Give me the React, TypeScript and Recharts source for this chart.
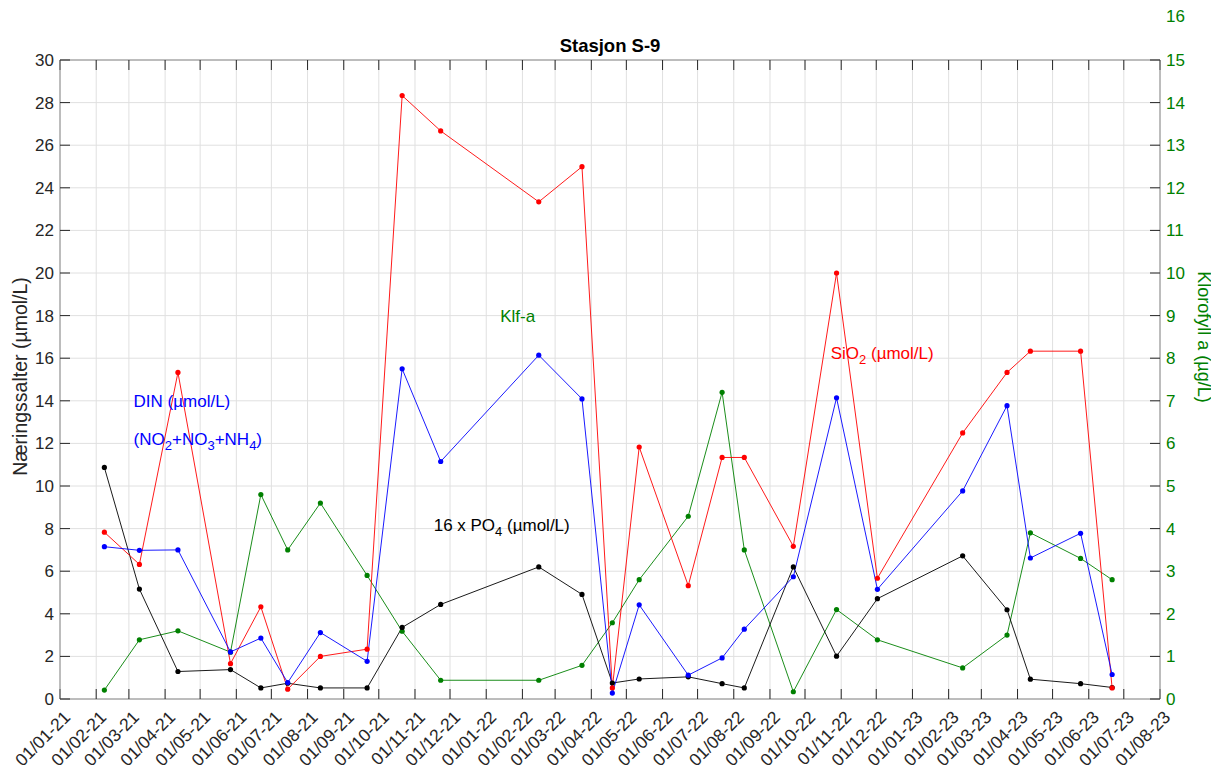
import React from "react";
import { LineChart, Line, XAxis, YAxis, CartesianGrid, ReferenceDot } from "recharts";

const FONT = "'Liberation Sans', Arial, Helvetica, sans-serif";

// Sampling dates
const dates = [
  "2021-02-08", "2021-03-10", "2021-04-12", "2021-05-27", "2021-06-22", "2021-07-15",
  "2021-08-12", "2021-09-21", "2021-10-21", "2021-11-23", "2022-02-15", "2022-03-24",
  "2022-04-19", "2022-05-12", "2022-06-23", "2022-07-22", "2022-08-10", "2022-09-21",
  "2022-10-28", "2022-12-02", "2023-02-13", "2023-03-23", "2023-04-12", "2023-05-25",
  "2023-06-21",
];
// SiO2 (µmol/L)
const sio2 = [7.83, 6.32, 15.33, 1.66, 4.33, 0.46, 2.0, 2.34, 28.33, 26.67, 23.34, 24.99, 0.52, 11.83, 5.32, 11.34, 11.34, 7.17, 20.0, 5.67, 12.49, 15.33, 16.33, 16.33, 0.52];
// DIN (µmol/L)
const din = [7.15, 6.98, 7.0, 2.21, 2.86, 0.77, 3.12, 1.77, 15.5, 11.15, 16.14, 14.09, 0.28, 4.42, 1.12, 1.93, 3.28, 5.74, 14.14, 5.15, 9.77, 13.77, 6.62, 7.78, 1.15];
// 16 x PO4 (µmol/L)
const po4x16 = [10.87, 5.16, 1.29, 1.38, 0.52, 0.74, 0.52, 0.52, 3.36, 4.44, 6.2, 4.91, 0.75, 0.94, 1.04, 0.72, 0.52, 6.2, 2.01, 4.71, 6.72, 4.19, 0.93, 0.72, 0.54];
// Klorofyll a (µg/L)
const chla = [0.21, 1.39, 1.6, 1.1, 4.8, 3.5, 4.6, 2.9, 1.59, 0.44, 0.44, 0.79, 1.79, 2.8, 4.29, 7.2, 3.5, 0.17, 2.1, 1.39, 0.73, 1.5, 3.9, 3.3, 2.8];

// X tick dates (month starts)
const monthTicks = [
  "2021-01-01", "2021-02-01", "2021-03-01", "2021-04-01", "2021-05-01", "2021-06-01",
  "2021-07-01", "2021-08-01", "2021-09-01", "2021-10-01", "2021-11-01", "2021-12-01",
  "2022-01-01", "2022-02-01", "2022-03-01", "2022-04-01", "2022-05-01", "2022-06-01",
  "2022-07-01", "2022-08-01", "2022-09-01", "2022-10-01", "2022-11-01", "2022-12-01",
  "2023-01-01", "2023-02-01", "2023-03-01", "2023-04-01", "2023-05-01", "2023-06-01",
  "2023-07-01", "2023-08-01",
];
const leftTicks = [0, 2, 4, 6, 8, 10, 12, 14, 16, 18, 20, 22, 24, 26, 28, 30];
const rightTicks = [0, 1, 2, 3, 4, 5, 6, 7, 8, 9, 10, 11, 12, 13, 14, 15];
const rightExtraTick = "16";

// Annotation anchors (date, left-axis value)
const annDIN = { date: "2021-03-05", y: 13.9 };
const annNO = { date: "2021-03-05", y: 12.13 };
const annKlf = { date: "2022-01-13", y: 17.9 };
const annPO4 = { date: "2021-11-17", y: 8.09 };
const annSi = { date: "2022-10-23", y: 16.13 };

const toT = (s: string) => Date.UTC(+s.slice(0, 4), +s.slice(5, 7) - 1, +s.slice(8, 10));
const fmtTick = (t: number) => {
  const d = new Date(t);
  const mm = String(d.getUTCMonth() + 1).padStart(2, "0");
  const yy = String(d.getUTCFullYear()).slice(2);
  return `01/${mm}-${yy}`;
};

const rows = dates.map((d, i) => ({ t: toT(d), si: sio2[i], din: din[i], po4: po4x16[i], chl: chla[i] }));
const xTicks = monthTicks.map(toT);
const xDomain = [xTicks[0], xTicks[xTicks.length - 1]];

const RED = "#ff0000";
const BLUE = "#0000ff";
const BLACK = "#000000";
const GREEN = "#008000";
const AXIS = "#8a8a8a";
const TICKC = "#262626";
const TICK_FS = 17;

const XTick = (props: any) => {
  const { x, y, payload } = props;
  const ax = x + 8;
  const ay = y + 16;
  return (
    <text x={ax} y={ay} transform={`rotate(-45, ${ax}, ${ay})`} textAnchor="end" dominantBaseline="middle"
      fontSize={17.5} fill={TICKC} fontFamily={FONT}>
      {fmtTick(payload.value)}
    </text>
  );
};

const EmptyTick = () => <g />;

const annLabel = (content: (x: number, y: number) => React.ReactNode) => (props: any) => {
  const vb = props.viewBox || {};
  return content(vb.x, vb.y);
};

export default function App() {
  return (
    <LineChart width={1211} height={762} data={rows} margin={{ top: 51, right: 0, bottom: 0, left: 0 }}>
      <CartesianGrid yAxisId="left" stroke="#e0e0e0" strokeWidth={1} />
      <XAxis
        dataKey="t" type="number" domain={xDomain} ticks={xTicks} interval={0} allowDataOverflow
        height={71} tickSize={-10} tickMargin={10} tick={<XTick />}
        axisLine={{ stroke: AXIS }} tickLine={{ stroke: TICKC }}
      />
      <XAxis
        xAxisId="top" dataKey="t" orientation="top" type="number" domain={xDomain} ticks={xTicks} interval={0} allowDataOverflow
        height={1} tick={<EmptyTick />} tickSize={-10} tickMargin={0} axisLine={{ stroke: AXIS }} tickLine={{ stroke: TICKC }}
      />
      <YAxis
        yAxisId="left" type="number" domain={[0, 30]} ticks={leftTicks} interval={0} width={52}
        tickSize={-10} tickMargin={16} axisLine={{ stroke: AXIS }} tickLine={{ stroke: TICKC }}
        tick={{ fontSize: TICK_FS, fill: TICKC, fontFamily: FONT }}
        label={(p: any) => {
          const vb = p.viewBox || {};
          const cx = vb.x + 14;
          const cy = vb.y + vb.height / 2 - 3;
          return (
            <g>
              <text x={cx} y={cy} transform={`rotate(-90, ${cx}, ${cy})`} textAnchor="middle" dominantBaseline="middle"
                fontSize={19.5} fill={TICKC} fontFamily={FONT}>Næringssalter (µmol/L)</text>
              <text x={vb.x + vb.width + 550} y={vb.y - 8} textAnchor="middle" fontSize={18.5} fontWeight="bold"
                fill="#000" fontFamily={FONT}>Stasjon S-9</text>
            </g>
          );
        }}
      />
      <YAxis
        yAxisId="right" orientation="right" type="number" domain={[0, 15]} ticks={rightTicks} interval={0} width={59}
        tickSize={-10} tickMargin={16} axisLine={{ stroke: AXIS }} tickLine={{ stroke: TICKC }}
        tick={{ fontSize: TICK_FS, fill: GREEN, fontFamily: FONT }}
        label={(p: any) => {
          const vb = p.viewBox || {};
          const cx = vb.x + 43;
          const cy = vb.y + vb.height * 0.4335;
          return (
            <g>
              <text x={vb.x + 6} y={vb.y - vb.height / 15} textAnchor="start" dominantBaseline="middle"
                fontSize={TICK_FS} fill={GREEN} fontFamily={FONT}>{rightExtraTick}</text>
              <text x={cx} y={cy} transform={`rotate(90, ${cx}, ${cy})`} textAnchor="middle" dominantBaseline="middle"
                fontSize={18} fill={GREEN} fontFamily={FONT}>Klorofyll a (µg/L)</text>
            </g>
          );
        }}
      />
      <Line xAxisId="top" yAxisId="right" dataKey="chl" stroke={GREEN} strokeWidth={0.9} isAnimationActive={false}
        dot={{ r: 2.6, fill: GREEN, stroke: "none" }} activeDot={false} />
      <Line yAxisId="left" dataKey="po4" stroke={BLACK} strokeWidth={0.9} isAnimationActive={false}
        dot={{ r: 2.6, fill: BLACK, stroke: "none" }} activeDot={false} />
      <Line yAxisId="left" dataKey="si" stroke={RED} strokeWidth={0.9} isAnimationActive={false}
        dot={{ r: 2.6, fill: RED, stroke: "none" }} activeDot={false} />
      <Line yAxisId="left" dataKey="din" stroke={BLUE} strokeWidth={0.9} isAnimationActive={false}
        dot={{ r: 2.6, fill: BLUE, stroke: "none" }} activeDot={false} />

      <ReferenceDot yAxisId="left" x={toT(annDIN.date)} y={annDIN.y} r={0} stroke="none" fill="none"
        label={annLabel((x, y) => (
          <text x={x} y={y} dominantBaseline="middle" fontSize={17} fill={BLUE} fontFamily={FONT}>DIN (µmol/L)</text>
        ))} />
      <ReferenceDot yAxisId="left" x={toT(annNO.date)} y={annNO.y} r={0} stroke="none" fill="none"
        label={annLabel((x, y) => (
          <text x={x} y={y} dominantBaseline="middle" fontSize={17} fill={BLUE} fontFamily={FONT}>
            <tspan>(NO</tspan>
            <tspan dy={6} fontSize={13}>2</tspan>
            <tspan dy={-6}>+NO</tspan>
            <tspan dy={6} fontSize={13}>3</tspan>
            <tspan dy={-6}>+NH</tspan>
            <tspan dy={6} fontSize={13}>4</tspan>
            <tspan dy={-6}>)</tspan>
          </text>
        ))} />
      <ReferenceDot yAxisId="left" x={toT(annKlf.date)} y={annKlf.y} r={0} stroke="none" fill="none"
        label={annLabel((x, y) => (
          <text x={x} y={y} dominantBaseline="middle" fontSize={17} fill={GREEN} fontFamily={FONT}>Klf-a</text>
        ))} />
      <ReferenceDot yAxisId="left" x={toT(annPO4.date)} y={annPO4.y} r={0} stroke="none" fill="none"
        label={annLabel((x, y) => (
          <text x={x} y={y} dominantBaseline="middle" fontSize={17} fill={BLACK} fontFamily={FONT}>
            <tspan>16 x PO</tspan>
            <tspan dy={6} fontSize={13}>4</tspan>
            <tspan dy={-6}> (µmol/L)</tspan>
          </text>
        ))} />
      <ReferenceDot yAxisId="left" x={toT(annSi.date)} y={annSi.y} r={0} stroke="none" fill="none"
        label={annLabel((x, y) => (
          <text x={x} y={y} dominantBaseline="middle" fontSize={17} fill={RED} fontFamily={FONT}>
            <tspan>SiO</tspan>
            <tspan dy={6} fontSize={13}>2</tspan>
            <tspan dy={-6}> (µmol/L)</tspan>
          </text>
        ))} />
    </LineChart>
  );
}
